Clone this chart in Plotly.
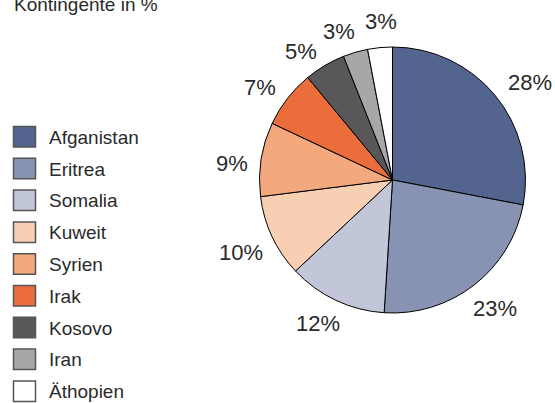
import math
import plotly.graph_objects as go

# Herkunftsländer und Anteile (in %)
countries = ["Afganistan", "Eritrea", "Somalia", "Kuweit", "Syrien",
             "Irak", "Kosovo", "Iran", "Äthopien"]
shares = [28, 23, 12, 10, 9, 7, 5, 3, 3]
colors = ["#53658f", "#8893b3", "#c1c6d9", "#f9cfb3", "#f3a87d",
          "#ea6d3b", "#58585a", "#a6a7a9", "#ffffff"]
title_text = "Kontingente in %"

# small pixel nudges for the outside percentage labels (dx, dy)
label_nudges = [(9, 9), (2, -1.5), (-6, -3), (1, 1), (-1, 9),
                (-4, 7), (-10, 9.5), (-10, 2), (3, -5)]

W, H = 555, 403
FONT = "Liberation Sans, Arial, Helvetica, sans-serif"
TEXT_COLOR = "#2a2a2a"

# pie geometry in pixels
cx, cy, r = 392.5, 180.0, 133.0


def px(x):
    return x / W


def py(y):
    return 1 - y / H


fig = go.Figure()
fig.add_trace(go.Pie(
    labels=countries,
    values=shares,
    sort=False,
    direction="clockwise",
    rotation=0,
    marker=dict(colors=colors, line=dict(color="#000000", width=1)),
    textinfo="none",
    hoverinfo="label+percent",
    showlegend=False,
    domain=dict(x=[px(cx - r), px(cx + r)], y=[py(cy + r), py(cy - r)]),
))

annotations = []
shapes = []

# percentage labels outside each slice, at the slice's mid angle
total = sum(shares)
cum = 0
label_size = 22
for v, (nx, ny) in zip(shares, label_nudges):
    mid = (cum + v / 2) / total * 2 * math.pi
    cum += v
    dx, dy = math.sin(mid), -math.cos(mid)
    txt = f"{v}%"
    half_w = 0.5 * label_size * (0.556 * (len(txt) - 1) + 0.889)
    half_h = 0.36 * label_size
    support = abs(dx) * half_w + abs(dy) * half_h
    dist = r + 12 + support
    annotations.append(dict(
        x=px(cx + dx * dist + nx), y=py(cy + dy * dist + ny),
        xref="paper", yref="paper", text=txt, showarrow=False,
        xanchor="center", yanchor="middle",
        font=dict(family=FONT, size=label_size, color=TEXT_COLOR),
    ))

# legend: coloured boxes with country names
row0, step, box_h = 126.5, 31.8, 20.5
for i, (name, col) in enumerate(zip(countries, colors)):
    top = row0 + i * step
    shapes.append(dict(
        type="rect", xref="paper", yref="paper",
        x0=px(13.5), x1=px(35.5), y0=py(top + box_h), y1=py(top),
        fillcolor=col, line=dict(color="#555555", width=1.5),
    ))
    annotations.append(dict(
        x=px(47), y=py(top + box_h / 2 + 0.5), xref="paper", yref="paper",
        text=name, showarrow=False, xanchor="left", yanchor="middle",
        font=dict(family=FONT, size=19, color=TEXT_COLOR),
    ))

# chart heading, partly cut off at the top edge
annotations.append(dict(
    x=px(12), y=py(12.5), xref="paper", yref="paper", text=title_text,
    showarrow=False, xanchor="left", yanchor="bottom", yshift=-4,
    font=dict(family=FONT, size=19, color=TEXT_COLOR),
))

fig.update_layout(
    width=W, height=H,
    margin=dict(l=0, r=0, t=0, b=0),
    paper_bgcolor="#ffffff", plot_bgcolor="#ffffff",
    annotations=annotations, shapes=shapes,
)

fig.write_html("out.html")
